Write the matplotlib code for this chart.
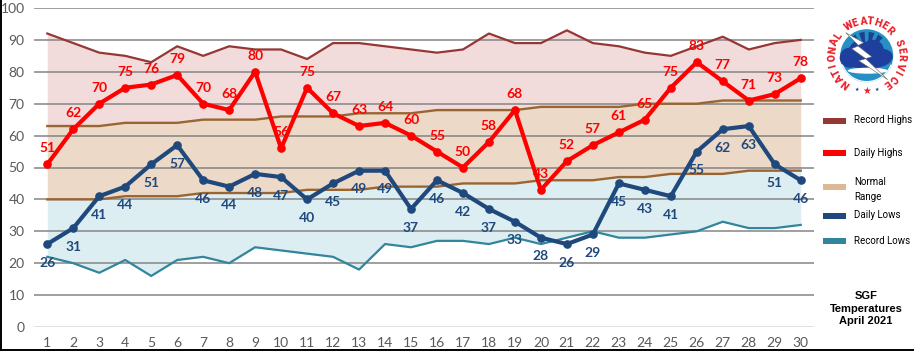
import matplotlib
matplotlib.use("Agg")
import matplotlib.pyplot as plt
from matplotlib.patches import Circle, Polygon, Rectangle, Ellipse, Wedge
import numpy as np

days = list(range(1, 31))
record_highs = [92, 89, 86, 85, 83, 88, 85, 88, 87, 87, 84, 89, 89, 88, 87, 86, 87, 92, 89, 89, 93, 89, 88, 86, 85, 88, 91, 87, 89, 90]
daily_highs = [51, 62, 70, 75, 76, 79, 70, 68, 80, 56, 75, 67, 63, 64, 60, 55, 50, 58, 68, 43, 52, 57, 61, 65, 75, 83, 77, 71, 73, 78]
normal_highs = [63, 63, 63, 64, 64, 64, 65, 65, 65, 66, 66, 66, 67, 67, 67, 68, 68, 68, 68, 69, 69, 69, 69, 70, 70, 70, 71, 71, 71, 71]
normal_lows = [40, 40, 40, 41, 41, 41, 42, 42, 42, 42, 43, 43, 43, 44, 44, 44, 45, 45, 45, 46, 46, 46, 47, 47, 48, 48, 48, 49, 49, 49]
daily_lows = [26, 31, 41, 44, 51, 57, 46, 44, 48, 47, 40, 45, 49, 49, 37, 46, 42, 37, 33, 28, 26, 29, 45, 43, 41, 55, 62, 63, 51, 46]
record_lows = [22, 20, 17, 21, 16, 21, 22, 20, 25, 24, 23, 22, 18, 26, 25, 27, 27, 26, 28, 26, 28, 30, 28, 28, 29, 30, 33, 31, 31, 32]

legend_names = ["Record Highs", "Daily Highs", "Normal\nRange", "Daily Lows", "Record Lows"]
legend_colors = ["#953735", "#FF0000", "#DDB892", "#1F497D", "#31859C"]
legend_y = [120.5, 153, 187, 216, 241]
W, H = 914, 352

fig = plt.figure(figsize=(W / 100, H / 100), dpi=100)
ax = fig.add_axes([34.3 / W, 1 - 327 / H, 779.4 / W, 319 / H])

ax.fill_between(days, record_lows, normal_lows, color="#DDEEF3", lw=0, zorder=1)
ax.fill_between(days, normal_lows, normal_highs, color="#EDD9C8", lw=0, zorder=1)
ax.fill_between(days, normal_highs, record_highs, color="#F2DCDB", lw=0, zorder=1)

for v in range(10, 101, 10):
    ax.axhline(v, color="#7F7F7F", lw=1.1, alpha=0.95, zorder=2)
ax.axhline(0, color="#D9D9D9", lw=1.1, zorder=2)

ax.plot(days, record_highs, color="#953735", lw=1.6, zorder=3)
ax.plot(days, record_lows, color="#31859C", lw=1.6, zorder=3)
ax.plot(days, normal_highs, color="#996633", lw=1.7, zorder=3)
ax.plot(days, normal_lows, color="#996633", lw=1.7, zorder=3)
ax.plot(days, daily_highs, color="#FF0000", lw=3, marker="o", ms=5.2, zorder=4)
ax.plot(days, daily_lows, color="#1F497D", lw=3, marker="o", ms=5.2, zorder=4)

for d, v in zip(days, daily_highs):
    ax.annotate(str(v), (d, v), xytext=(0, 11.5), textcoords="offset points", ha="center", va="center",
                color="#FF0000", fontsize=10, fontweight="bold", family="Lato", zorder=5)
for d, v in zip(days, daily_lows):
    ax.annotate(str(v), (d, v), xytext=(0, -13.5), textcoords="offset points", ha="center", va="center",
                color="#1F497D", fontsize=10, fontweight="bold", family="Lato", zorder=5)

ax.set_xlim(0.5, 30.5)
ax.set_ylim(0, 100)
ax.set_xticks(days)
ax.set_yticks(range(0, 101, 10))
ax.tick_params(length=0, labelsize=10, labelcolor="#595959", pad=7)
ax.tick_params(axis="y", pad=7)
for lab in ax.get_xticklabels() + ax.get_yticklabels():
    lab.set_family("Lato")
for s in ax.spines.values():
    s.set_visible(False)

# everything else is placed in pixels of the whole picture
over = fig.add_axes([0, 0, 1, 1], facecolor="none")
over.set_xlim(0, W)
over.set_ylim(H, 0)
over.axis("off")

over.plot([0.5, 0.5], [0, 350], color="black", lw=1.4)
over.plot([0, W], [350.3, 350.3], color="black", lw=1.4)

for name, col, y in zip(legend_names, legend_colors, legend_y):
    over.add_patch(Rectangle((823, y - 3), 23, 6, color=col, lw=0))
    over.text(853.5 if "\n" not in name else 854.5, y - 0.5 if "\n" not in name else y + 2.5, name, fontsize=7,
              family="Roboto", color="black", va="center", ha="left", linespacing=1.55)

over.text(866, 308.5, "SGF\nTemperatures\nApril 2021", fontsize=8, family="Liberation Sans", fontweight="bold",
          ha="center", va="center", linespacing=1.3)

# NWS logo
cx, cy = 866.7, 55.7
over.add_patch(Circle((cx, cy), 26.5, fc="#2490C4", ec="none"))
for a in (-35, -12, 12, 35):
    rad = np.deg2rad(a)
    pts = [(cx + 11 * np.sin(rad - 0.08), cy - 11 * np.cos(rad - 0.08)),
           (cx + 11 * np.sin(rad + 0.08), cy - 11 * np.cos(rad + 0.08)),
           (cx + 24 * np.sin(rad + 0.12), cy - 24 * np.cos(rad + 0.12)),
           (cx + 24 * np.sin(rad - 0.12), cy - 24 * np.cos(rad - 0.12))]
    over.add_patch(Polygon(pts, fc="#1E3F90", ec="none"))
for px, py, rx, ry in [(-17, 2, 10, 10), (-7, -4, 11, 11), (6, -6, 11, 10), (15, 1, 11, 8), (0, 4, 24, 9)]:
    over.add_patch(Ellipse((cx + px, cy + py), 2 * rx, 2 * ry, fc="#1E3F9E", ec="none"))
over.add_patch(Ellipse((cx + 1, cy + 15), 40, 6, fc="white", ec="none"))
over.add_patch(Wedge((cx, cy), 26.5, 20, 160, width=1.2, fc="white", ec="none"))
over.add_patch(Polygon([(cx - 21, cy - 23), (cx - 3, cy - 13), (cx - 9, cy - 10), (cx + 5, cy + 1),
                        (cx - 1, cy + 3), (cx + 21, cy + 24), (cx - 8, cy + 5), (cx - 1, cy + 3),
                        (cx - 15, cy - 7), (cx - 8, cy - 10)], fc="white", ec="#666666", lw=0.4))
ring = "NATIONAL WEATHER SERVICE"
angles = np.linspace(-143, 143, len(ring))
for ch, a in zip(ring, angles):
    rad = np.deg2rad(a)
    over.text(cx + 34.5 * np.sin(rad), cy - 34.5 * np.cos(rad), ch, fontsize=7.4, fontweight="black",
              family="Roboto", color="#E8202A", ha="center", va="center", rotation=-a)
over.text(cx, cy + 35, "\u2605", fontsize=7, color="#E8202A", ha="center", va="center", family="DejaVu Sans")
for dx in (-10, 10):
    over.text(cx + dx, cy + 34, "\u2605", fontsize=3.5, color="#14306F", ha="center", va="center", family="DejaVu Sans")

fig.savefig("out.png", dpi=100)
